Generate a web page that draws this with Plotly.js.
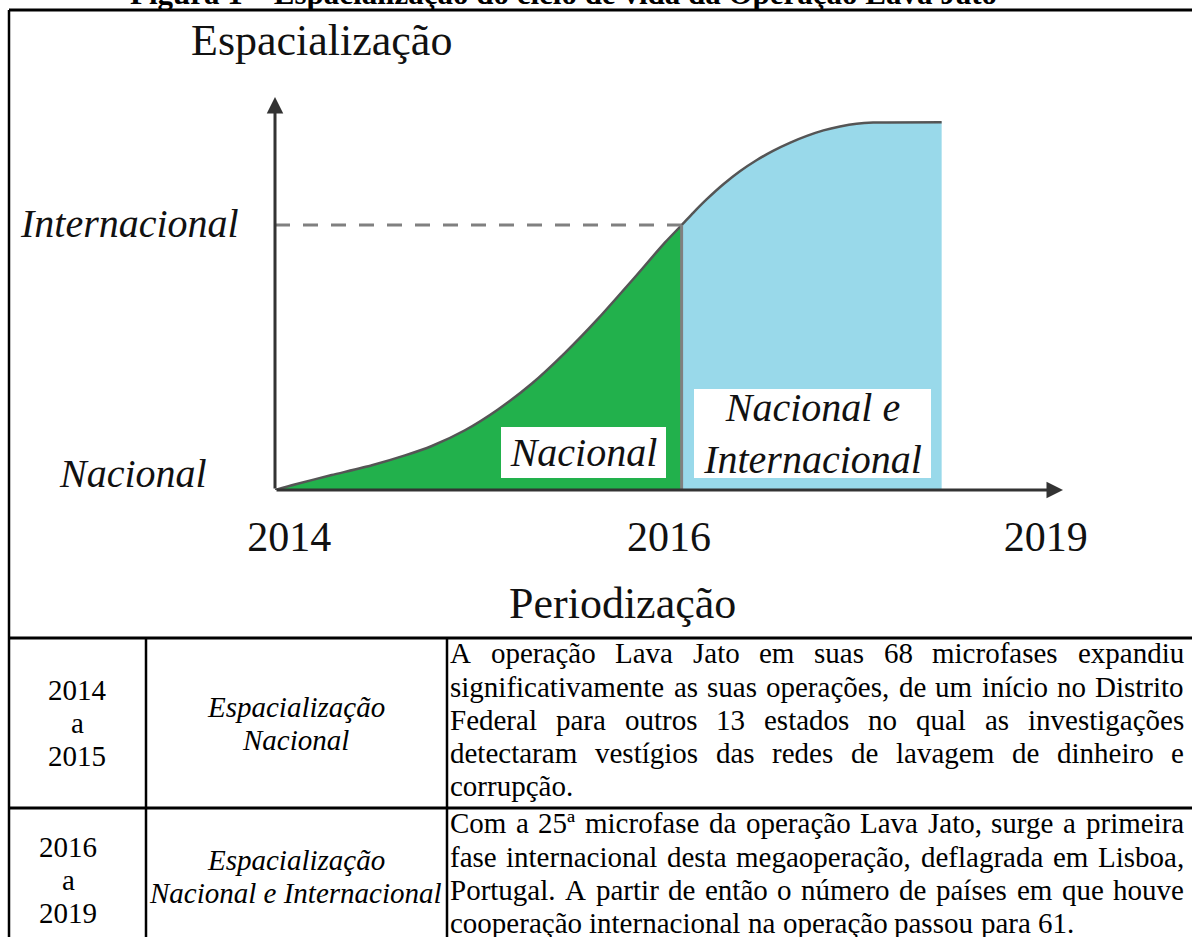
<!DOCTYPE html>
<html><head><meta charset="utf-8">
<script src="https://cdn.plot.ly/plotly-3.0.1.min.js"></script>
<style>html,body{margin:0;padding:0;background:#fff;overflow:hidden;} #chart{width:1192px;height:937px;}</style>
</head><body><div id="chart"></div>
<script>
// ---------------- data ----------------
const curveX = [0, 2.5, 7.2, 12.3, 16.5, 19.9, 24.1, 28.3, 32.6, 36.8, 41.0, 45.3, 49.5, 51.6, 53.1, 54.8, 56.9, 59.0, 61.1, 63.2, 65.4, 67.5, 69.6, 71.7, 73.8, 75.9, 84.6];
const curveY = [0, 1.4, 3.8, 6.3, 8.8, 11.2, 15.2, 20.5, 27.1, 34.9, 43.6, 53.3, 63.0, 67.4, 70.6, 74.0, 77.8, 81.1, 83.9, 86.3, 88.4, 90.1, 91.5, 92.5, 93.2, 93.5, 93.6];
const phaseBoundaryX = [51.6];
const levelLabels = ['Nacional', 'Internacional'];
const levelValues = [0, 67.4];
const yearLabels = ['2014', '2016', '2019'];
const yearTicks = [1.8, 50, 97.8];
const phaseNames = ['Nacional', 'Nacional e<br>Internacional'];
const phaseLabelX = [39.15, 68.2];
const phaseLabelY = [9.5, 14.4];

const figureTitle = 'Figura 1 – Espacialização do ciclo de vida da Operação Lava Jato';
const yTitle = 'Espacialização';
const xTitle = 'Periodização';

const tablePeriods = [['2014', 'a', '2015'], ['2016', 'a', '2019']];
const tableStages = [['Espacialização', 'Nacional'], ['Espacialização', 'Nacional e Internacional']];
const tableTexts = [
  ['A operação Lava Jato em suas 68 microfases expandiu',
   'significativamente as suas operações, de um início no Distrito',
   'Federal para outros 13 estados no qual as investigações',
   'detectaram vestígios das redes de lavagem de dinheiro e',
   'corrupção.'],
  ['Com a 25ª microfase da operação Lava Jato, surge a primeira',
   'fase internacional desta megaoperação, deflagrada em Lisboa,',
   'Portugal. A partir de então o número de países em que houve',
   'cooperação internacional na operação passou para 61.']
];

// ---------------- layout helpers ----------------
const W = 1192, H = 937;
const SERIF = "'Liberation Serif', 'Times New Roman', serif";
const px = v => v / W;
const py = v => 1 - v / H;
const yc = (baseline, fs) => py(baseline - 0.338 * fs);

const bx = phaseBoundaryX[0];
const greenX = [], greenY = [], blueX = [], blueY = [];
curveX.forEach((x, i) => {
  if (x <= bx) { greenX.push(x); greenY.push(curveY[i]); }
  if (x >= bx) { blueX.push(x); blueY.push(curveY[i]); }
});
const intl = levelValues[1];

const traces = [
  {x: greenX, y: greenY, mode: 'lines', fill: 'tozeroy', fillcolor: '#22B14C', line: {width: 0, color: '#22B14C', shape: 'spline', smoothing: 0.6}, hoverinfo: 'skip'},
  {x: blueX, y: blueY, mode: 'lines', fill: 'tozeroy', fillcolor: '#99D9EA', line: {width: 0, color: '#99D9EA', shape: 'spline', smoothing: 0.6}, hoverinfo: 'skip'},
  {x: curveX, y: curveY, mode: 'lines', line: {color: '#555555', width: 2.5, shape: 'spline', smoothing: 0.6}, hoverinfo: 'skip'},
  {x: [0, bx], y: [intl, intl], mode: 'lines', line: {color: '#808080', width: 3, dash: '15px,13px'}, hoverinfo: 'skip'},
  {x: [bx, bx], y: [0, intl], mode: 'lines', line: {color: '#808080', width: 3}, hoverinfo: 'skip'}
];

const anns = [];
// axis arrows
anns.push({xref: 'x', yref: 'y', axref: 'x', ayref: 'y', x: 100, y: 0, ax: 0, ay: 0, text: '', showarrow: true,
  arrowhead: 2, arrowsize: 1.1, arrowwidth: 3, arrowcolor: '#333333', standoff: 0, startstandoff: 0});
anns.push({xref: 'x', yref: 'y', axref: 'x', ayref: 'y', x: 0, y: 100, ax: 0, ay: 0, text: '', showarrow: true,
  arrowhead: 2, arrowsize: 1.1, arrowwidth: 3, arrowcolor: '#333333', standoff: 0, startstandoff: 0});

// level labels (y axis)
const levelRight = [208, 240];
const levelShift = [16.5, 1.5];
levelLabels.forEach((t, i) => anns.push({xref: 'paper', yref: 'y', x: px(levelRight[i]), y: levelValues[i], xanchor: 'right', yanchor: 'middle',
  yshift: levelShift[i], text: '<i>' + t + '</i>', showarrow: false, borderpad: 0, font: {family: SERIF, size: 40, color: '#111'}}));

// phase boxes
const boxW = [165, 237], boxH = [51, 89];
phaseNames.forEach((t, i) => anns.push({xref: 'x', yref: 'y', x: phaseLabelX[i], y: phaseLabelY[i], xanchor: 'center', yanchor: 'middle',
  width: boxW[i], height: boxH[i], bgcolor: '#ffffff', borderpad: 0, borderwidth: 0, text: '<i>' + t + '</i>', showarrow: false,
  font: {family: SERIF, size: 40, color: '#111'}}));

// titles
anns.push({xref: 'paper', yref: 'paper', x: px(190), y: yc(55, 44), xanchor: 'left', yanchor: 'middle', text: yTitle, showarrow: false, borderpad: 0,
  font: {family: SERIF, size: 44, color: '#111'}});
anns.push({xref: 'paper', yref: 'paper', x: px(622), y: yc(618, 44), xanchor: 'center', yanchor: 'middle', text: xTitle, showarrow: false, borderpad: 0,
  font: {family: SERIF, size: 44, color: '#111'}});
anns.push({xref: 'paper', yref: 'paper', x: px(563), y: yc(4, 31), xanchor: 'center', yanchor: 'middle', text: '<b>' + figureTitle + '</b>', showarrow: false, borderpad: 0,
  font: {family: SERIF, size: 31, color: '#000'}});

// table: periods and stages
const FS = 29;
const periodX = [77, 68];
const periodBase = [[700, 733, 766], [857, 890, 923]];
tablePeriods.forEach((arr, r) => arr.forEach((t, k) => anns.push({xref: 'paper', yref: 'paper', x: px(periodX[r]), y: yc(periodBase[r][k], FS),
  xanchor: 'center', yanchor: 'middle', text: t, showarrow: false, borderpad: 0, font: {family: SERIF, size: FS, color: '#000'}})));
const stageBase = [[717, 750], [870, 903]];
tableStages.forEach((arr, r) => arr.forEach((t, k) => anns.push({xref: 'paper', yref: 'paper', x: px(295.5), y: yc(stageBase[r][k], FS),
  xanchor: 'center', yanchor: 'middle', text: '<i>' + t + '</i>', showarrow: false, borderpad: 0, font: {family: SERIF, size: FS, color: '#000'}})));

// table: justified description text
const ctx = document.createElement('canvas').getContext('2d');
ctx.font = FS + "px 'Liberation Serif'";
const LEFT = 450, RIGHT = 1184;
const textBase = [[663, 697, 730, 763, 796], [833, 867, 900, 933]];
tableTexts.forEach((lines, r) => lines.forEach((line, k) => {
  const justify = k < lines.length - 1;
  const words = line.split(' ');
  const widths = words.map(w => ctx.measureText(w).width);
  const total = widths.reduce((a, b) => a + b, 0);
  const gap = justify ? (RIGHT - LEFT - total) / (words.length - 1) : ctx.measureText(' ').width;
  let x = LEFT;
  words.forEach((w, i) => {
    anns.push({xref: 'paper', yref: 'paper', x: px(x), y: yc(textBase[r][k], FS), xanchor: 'left', yanchor: 'middle',
      text: w, showarrow: false, borderpad: 0, borderwidth: 0, font: {family: SERIF, size: FS, color: '#000'}});
    x += widths[i] + gap;
  });
}));

// frame / table lines
const L = (x0, y0, x1, y1, w) => ({type: 'line', xref: 'paper', yref: 'paper', x0: px(x0), y0: py(y0), x1: px(x1), y1: py(y1), line: {color: '#000', width: w}});
const shapes = [
  L(9, 10, 9, 937, 2.5),
  L(9, 10, 1192, 10, 3),
  L(9, 638, 1192, 638, 3),
  L(9, 808, 1192, 808, 3),
  L(146, 638, 146, 937, 2.5),
  L(447, 638, 447, 937, 2.5)
];

const layout = {
  width: W, height: H, margin: {l: 0, r: 0, t: 0, b: 0},
  paper_bgcolor: '#ffffff', plot_bgcolor: '#ffffff', showlegend: false,
  xaxis: {domain: [px(275), px(1063)], range: [0, 100], showgrid: false, zeroline: false, showline: false,
    tickmode: 'array', tickvals: yearTicks, ticktext: yearLabels, ticks: '', ticklabelstandoff: 18,
    tickfont: {family: SERIF, size: 42, color: '#111'}, fixedrange: true},
  yaxis: {domain: [py(490), py(97)], range: [0, 100], showgrid: false, zeroline: false, showline: false,
    showticklabels: false, ticks: '', fixedrange: true},
  annotations: anns, shapes: shapes
};

Plotly.newPlot('chart', traces, layout, {displayModeBar: false, staticPlot: true});
</script>
</body></html>
